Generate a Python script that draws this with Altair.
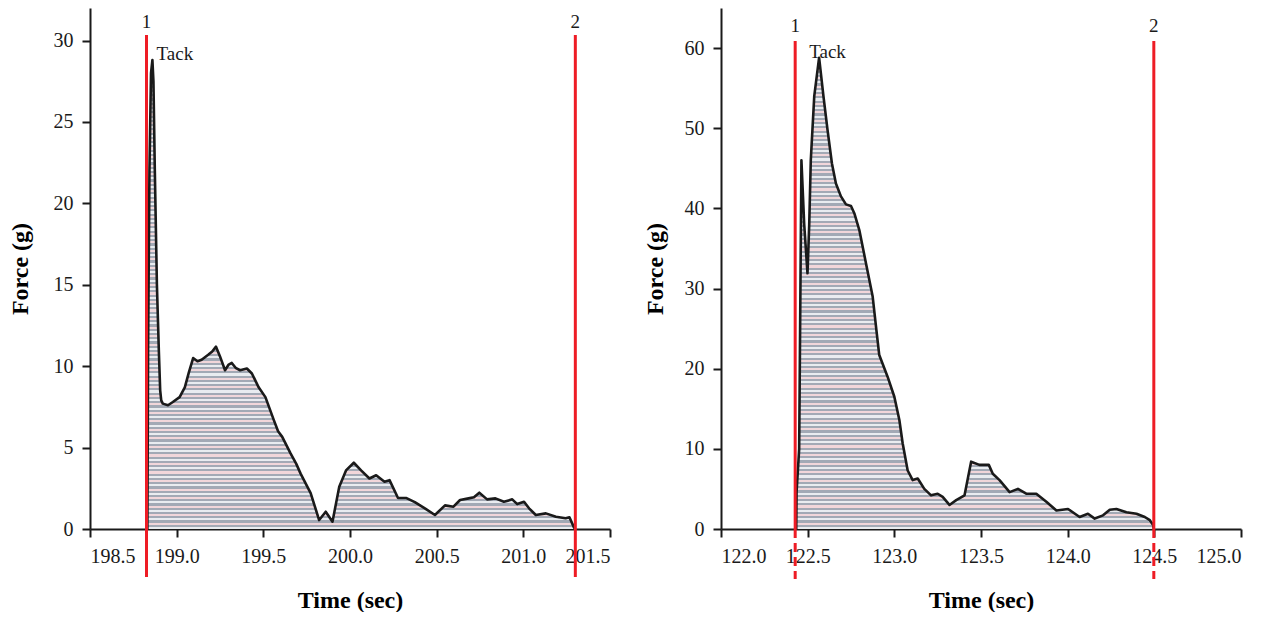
import altair as alt
import pandas as pd

# ---------------- data ----------------
left_time = [198.831, 198.835, 198.843, 198.852, 198.860, 198.866, 198.874, 198.886,
             198.897, 198.905, 198.911, 198.920, 198.950, 198.978, 199.017, 199.047,
             199.070, 199.095, 199.120, 199.144, 199.182, 199.205, 199.227, 199.250,
             199.279, 199.300, 199.318, 199.340, 199.366, 199.405, 199.434, 199.473,
             199.512, 199.560, 199.585, 199.609, 199.657, 199.690, 199.715, 199.773,
             199.822, 199.860, 199.899, 199.938, 199.977, 200.022, 200.064, 200.112,
             200.151, 200.199, 200.228, 200.277, 200.326, 200.374, 200.432, 200.490,
             200.548, 200.597, 200.635, 200.684, 200.715, 200.746, 200.791, 200.839,
             200.888, 200.936, 200.965, 201.004, 201.033, 201.072, 201.130, 201.188,
             201.244, 201.266, 201.292, 201.298]
left_force = [0.0, 11.0, 22.0, 28.0, 28.8, 27.5, 22.0, 15.0,
              11.0, 8.5, 7.9, 7.7, 7.6, 7.8, 8.1, 8.7,
              9.6, 10.5, 10.3, 10.4, 10.7, 10.9, 11.2, 10.6,
              9.75, 10.1, 10.2, 9.9, 9.75, 9.86, 9.55, 8.7,
              8.1, 6.7, 6.0, 5.66, 4.64, 4.0, 3.4, 2.2,
              0.55, 1.06, 0.45, 2.6, 3.6, 4.07, 3.6, 3.1,
              3.3, 2.9, 3.0, 1.9, 1.9, 1.65, 1.27, 0.86,
              1.45, 1.37, 1.78, 1.88, 1.95, 2.23, 1.82, 1.88,
              1.67, 1.82, 1.53, 1.67, 1.27, 0.86, 0.96, 0.75,
              0.66, 0.72, 0.1, 0.0]

right_time = [122.434, 122.436, 122.451, 122.464, 122.480, 122.499, 122.509, 122.518,
              122.538, 122.566, 122.591, 122.614, 122.640, 122.663, 122.692, 122.721,
              122.750, 122.769, 122.798, 122.836, 122.875, 122.896, 122.913, 122.961,
              123.000, 123.029, 123.048, 123.077, 123.106, 123.135, 123.173, 123.212,
              123.250, 123.279, 123.318, 123.357, 123.405, 123.443, 123.491, 123.545,
              123.568, 123.607, 123.665, 123.713, 123.761, 123.819, 123.877, 123.935,
              124.002, 124.069, 124.117, 124.156, 124.204, 124.243, 124.281, 124.339,
              124.397, 124.445, 124.474, 124.493, 124.497]
right_force = [0.0, 4.6, 10.0, 46.0, 38.0, 31.9, 38.0, 46.0,
               54.0, 58.8, 54.0, 49.9, 45.6, 43.1, 41.5, 40.5,
               40.3, 39.4, 37.3, 33.2, 29.0, 24.9, 21.7, 19.0,
               16.5, 13.6, 10.7, 7.3, 6.1, 6.3, 5.0, 4.2,
               4.4, 4.0, 3.0, 3.6, 4.2, 8.4, 8.0, 8.0,
               6.9, 6.1, 4.6, 5.0, 4.4, 4.4, 3.4, 2.3,
               2.5, 1.5, 1.9, 1.3, 1.7, 2.4, 2.5, 2.1,
               1.9, 1.5, 1.1, 0.5, 0.0]

marker_labels = ["1", "2"]
left_markers = [198.826, 201.30]
right_markers = [122.428, 124.497]

left_ticks = [198.5, 199.0, 199.5, 200.0, 200.5, 201.0, 201.5]
right_ticks = [122.0, 122.5, 123.0, 123.5, 124.0, 124.5, 125.0]
left_yticks = [0, 5, 10, 15, 20, 25, 30]
right_yticks = [0, 10, 20, 30, 40, 50, 60]

tack_label = "Tack"
left_tack = (198.884, 29.2)
right_tack = (122.509, 59.5)

# ---------------- styling ----------------
FONT = "Liberation Serif"
RED = "#ee1c25"
INK = "#1a1a1a"
W, H = 520, 521

GREY = "#a2a9b5"
LIGHT = "#e9ecf0"
PINK = "#f1d6da"
stops = []
n = 110
for i in range(n):
    a, b, c = i / n, (i + 0.5) / n, (i + 1) / n
    light = PINK if i % 2 == 0 else LIGHT
    stops += [alt.GradientStop(offset=a, color=GREY), alt.GradientStop(offset=b, color=GREY),
              alt.GradientStop(offset=b, color=light), alt.GradientStop(offset=min(c, 1.0), color=light)]
stripes = alt.Gradient(gradient="linear", stops=stops, x1=0, x2=0, y1=0, y2=1)


def panel(times, forces, markers, xdom, xticks, ydom, yticks, tack, ytitle_pad, dashed):
    df = pd.DataFrame({"t": times, "f": forces})
    mk = pd.DataFrame({"t": markers, "label": marker_labels})
    tk = pd.DataFrame({"t": [tack[0]], "f": [tack[1]], "label": [tack_label]})
    xs = alt.Scale(domain=xdom, nice=False, zero=False)
    ys = alt.Scale(domain=ydom, nice=False)
    xaxis = alt.Axis(values=xticks, format=".1f", title="Time (sec)", titlePadding=22,
                     labelPadding=9, tickSize=8)
    yaxis = alt.Axis(values=yticks, title="Force (g)", titlePadding=ytitle_pad,
                     labelPadding=9, tickSize=8)
    X = alt.X("t:Q", scale=xs, axis=xaxis)
    Y = alt.Y("f:Q", scale=ys, axis=yaxis)

    area = alt.Chart(df).mark_area(color=stripes, interpolate="linear").encode(x=X, y=Y)
    line = alt.Chart(df).mark_line(color=INK, strokeWidth=2.6, strokeJoin="round").encode(x=X, y=Y)
    if dashed:
        rule = alt.Chart(mk).mark_rule(color=RED, strokeWidth=3).encode(
            x=X, y=alt.value(33), y2=alt.value(H))
        rule2 = alt.Chart(mk).mark_rule(color=RED, strokeWidth=3, strokeDash=[9, 5]).encode(
            x=X, y=alt.value(H), y2=alt.value(H + 50))
        rules = rule + rule2
        ly = 18
    else:
        rules = alt.Chart(mk).mark_rule(color=RED, strokeWidth=3).encode(
            x=X, y=alt.value(27), y2=alt.value(H + 48))
        ly = 14
    nums = alt.Chart(mk).mark_text(font=FONT, fontSize=19, color=INK, baseline="middle").encode(
        x=X, y=alt.value(ly), text="label:N")
    tack_txt = alt.Chart(tk).mark_text(font=FONT, fontSize=19, color=INK, align="left",
                                       baseline="middle").encode(x=X, y=Y, text="label:N")
    return alt.layer(area, line, rules, nums, tack_txt).properties(width=W, height=H)


left = panel(left_time, left_force, left_markers, [198.5, 201.5], left_ticks,
             [0, 32], left_yticks, left_tack, 21, False)
right = panel(right_time, right_force, right_markers, [122.0, 125.0], right_ticks,
              [0, 65], right_yticks, right_tack, 17, True)

chart = alt.hconcat(left, right, spacing=111, bounds="flush").properties(
    padding={"left": 0, "top": 0, "right": 5, "bottom": 0}
).configure_view(strokeWidth=0).configure_axis(
    grid=False,
    domainColor=INK, domainWidth=2,
    tickColor=INK, tickWidth=2,
    labelFont=FONT, labelFontSize=20, labelColor=INK,
    titleFont=FONT, titleFontSize=24, titleFontWeight="bold", titleColor="#000",
)

chart.save("out.html", embed_options={"renderer": "svg", "actions": False})
